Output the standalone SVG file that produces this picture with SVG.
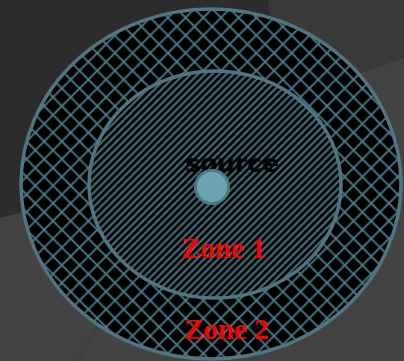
<svg xmlns="http://www.w3.org/2000/svg" width="404" height="361" viewBox="0 0 404 361">
  <style>
    .hatch { stroke: #4d7e8b; fill: none; }
    .ring { stroke: #4f7682; stroke-width: 3.5; }
    .zone { font-family: "Liberation Serif", "Times New Roman", serif; font-weight: bold; font-size: 29px; fill: #ff0000; text-anchor: middle; }
    .lbl { font-family: "DejaVu Sans", "Liberation Sans", sans-serif; font-weight: bold; font-size: 25px; fill: #000000; text-anchor: middle; }
  </style>
  <defs>
    <pattern id="diag" width="5" height="5" patternUnits="userSpaceOnUse" patternTransform="rotate(45)">
      <rect width="5" height="5" fill="#000"/>
      <line class="hatch" x1="2.5" y1="0" x2="2.5" y2="5" stroke-width="1.9"/>
    </pattern>
    <pattern id="cross" width="12.5" height="12.5" patternUnits="userSpaceOnUse" patternTransform="rotate(45)">
      <rect width="12.5" height="12.5" fill="#000"/>
      <line class="hatch" x1="6.25" y1="0" x2="6.25" y2="12.5" stroke-width="1.8"/>
      <line class="hatch" x1="0" y1="6.25" x2="12.5" y2="6.25" stroke-width="1.8"/>
    </pattern>
  </defs>

  <g id="background">
    <rect width="404" height="361" fill="#2c2c2c"/>
    <polygon points="268,0 404,0 404,58 320,95 275,60" fill="#393939"/>
    <polygon points="0,218 150,180 340,80 404,58 404,361 0,361" fill="#434343"/>
    <line x1="98" y1="325" x2="78" y2="361" stroke="#3c3c3c" stroke-width="2" opacity="0.5"/>
  </g>

  <g id="zone2">
    <ellipse cx="211" cy="184" rx="190" ry="175" fill="url(#cross)" class="ring"/>
    <text class="zone" x="226.5" y="339">Zone 2</text>
  </g>

  <g id="zone1">
    <ellipse cx="215" cy="184.5" rx="126" ry="113.5" fill="url(#diag)" class="ring"/>
    <text class="zone" x="223.5" y="258">Zone 1</text>
  </g>

  <g id="source">
    <text class="lbl" x="232" y="172" opacity="0.9">source</text>
    <circle cx="212" cy="187" r="16.5" fill="#6ea3b2" stroke="#4b7b89" stroke-width="3"/>
  </g>

  <g id="connectors"></g>
</svg>
